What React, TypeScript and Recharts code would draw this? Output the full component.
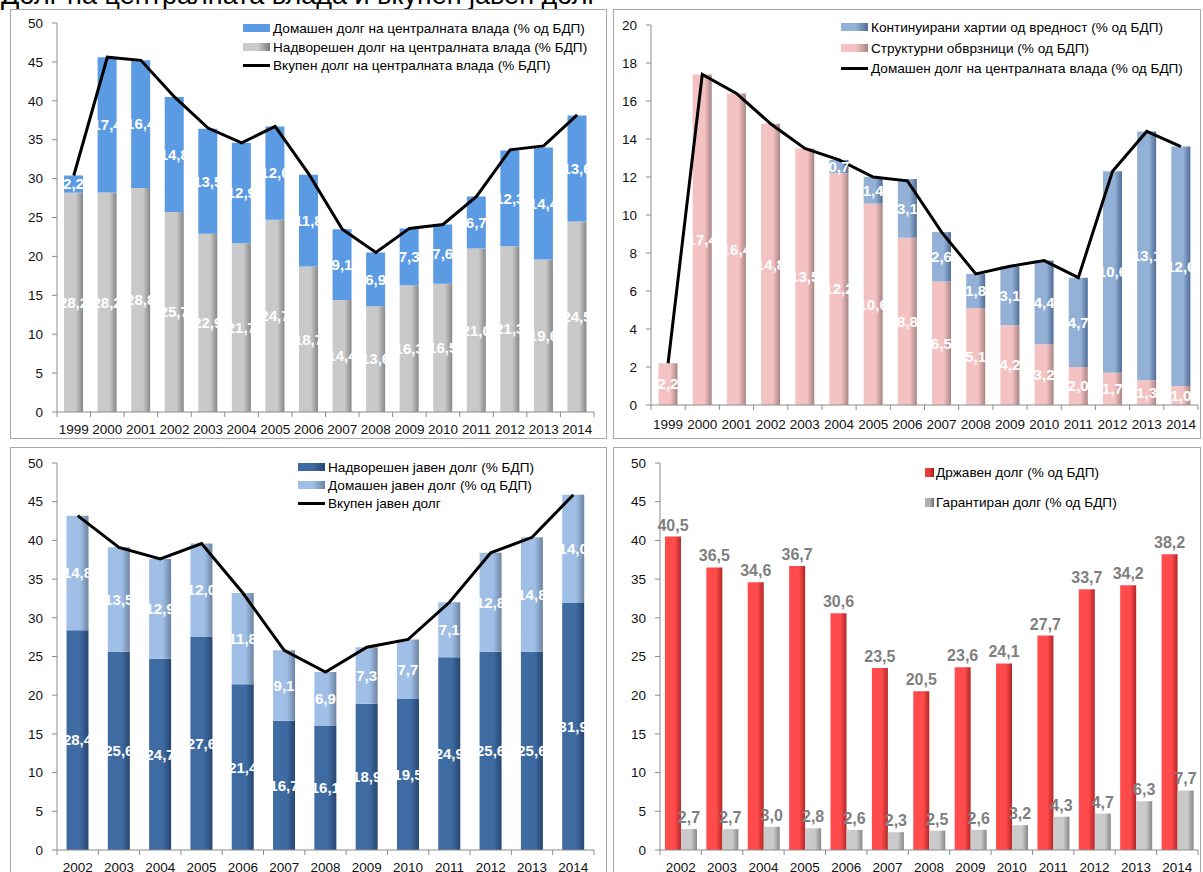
import React from 'react';
import { ComposedChart, BarChart, Bar, Line, XAxis, YAxis, LabelList } from 'recharts';

// categories
const yearsLong = ['1999', '2000', '2001', '2002', '2003', '2004', '2005', '2006', '2007', '2008', '2009', '2010', '2011', '2012', '2013', '2014'];
const yearsShort = ['2002', '2003', '2004', '2005', '2006', '2007', '2008', '2009', '2010', '2011', '2012', '2013', '2014'];

// top-left: central government debt
const centralExternal = [28.2, 28.2, 28.8, 25.7, 22.9, 21.7, 24.7, 18.7, 14.4, 13.6, 16.3, 16.5, 21.0, 21.3, 19.6, 24.5];
const centralDomestic = [2.2, 17.4, 16.4, 14.8, 13.5, 12.9, 12.0, 11.8, 9.1, 6.9, 7.3, 7.6, 6.7, 12.3, 14.4, 13.6];
const centralTotal = [30.4, 45.6, 45.2, 40.5, 36.5, 34.6, 36.7, 30.6, 23.5, 20.5, 23.6, 24.1, 27.7, 33.7, 34.2, 38.2];

// top-right: domestic debt structure
const structuralBonds = [2.2, 17.4, 16.4, 14.8, 13.5, 12.2, 10.6, 8.8, 6.5, 5.1, 4.2, 3.2, 2.0, 1.7, 1.3, 1.0];
const continuousSecurities = [0, 0, 0, 0, 0, 0.7, 1.4, 3.1, 2.6, 1.8, 3.1, 4.4, 4.7, 10.6, 13.1, 12.6];

// bottom-left: public debt
const publicExternal = [28.4, 25.6, 24.7, 27.6, 21.4, 16.7, 16.1, 18.9, 19.5, 24.9, 25.6, 25.6, 31.9];
const publicDomestic = [14.8, 13.5, 12.9, 12.0, 11.8, 9.1, 6.9, 7.3, 7.7, 7.1, 12.8, 14.8, 14.0];
const publicTotal = [43.2, 39.1, 37.6, 39.6, 33.2, 25.8, 23.0, 26.2, 27.2, 32.0, 38.4, 40.4, 45.9];

// bottom-right: state vs guaranteed debt
const stateDebt = [40.5, 36.5, 34.6, 36.7, 30.6, 23.5, 20.5, 23.6, 24.1, 27.7, 33.7, 34.2, 38.2];
const guaranteedDebt = [2.7, 2.7, 3.0, 2.8, 2.6, 2.3, 2.5, 2.6, 3.2, 4.3, 4.7, 6.3, 7.7];

const ticks50 = [0, 5, 10, 15, 20, 25, 30, 35, 40, 45, 50];
const ticks20 = [0, 2, 4, 6, 8, 10, 12, 14, 16, 18, 20];

const data1 = yearsLong.map((y, i) => ({ year: y, ext: centralExternal[i], dom: centralDomestic[i], total: centralTotal[i] }));
const data2 = yearsLong.map((y, i) => ({ year: y, struct: structuralBonds[i], cont: continuousSecurities[i], dom: centralDomestic[i] }));
const data3 = yearsShort.map((y, i) => ({ year: y, ext: publicExternal[i], dom: publicDomestic[i], total: publicTotal[i] }));
const data4 = yearsShort.map((y, i) => ({ year: y, state: stateDebt[i], guar: guaranteedDebt[i] }));

const axisColor = '#8c8c8c';
const font = '"Liberation Sans", Arial, sans-serif';

const fmt = (v: any) => (v == null || Number(v) === 0 ? '' : Number(v).toFixed(1).replace('.', ','));

const makeTick = (bw: number, cats: string[], dy: number) => (props: any) => {
  const { x, y, payload } = props;
  const last = payload.value === cats[cats.length - 1];
  return (
    <g>
      <line x1={x - bw / 2} x2={x - bw / 2} y1={y} y2={y + 5} stroke={axisColor} />
      {last && <line x1={x + bw / 2} x2={x + bw / 2} y1={y} y2={y + 5} stroke={axisColor} />}
      <text x={x} y={y + dy} textAnchor="middle" dominantBaseline="middle" fontSize={13.5} fill="#111">
        {payload.value}
      </text>
    </g>
  );
};

const grad = (id: string, main: string, edge: string) => (
  <linearGradient id={id} x1="0" y1="0" x2="1" y2="0">
    <stop offset="0%" stopColor={main} />
    <stop offset="62%" stopColor={main} />
    <stop offset="100%" stopColor={edge} />
  </linearGradient>
);

const cssGrad = (main: string, edge: string) => `linear-gradient(to right, ${main} 0%, ${main} 55%, ${edge} 100%)`;

type Item = { label: string; kind: 'rect' | 'line' | 'square'; bg?: string };

const LegendBox = ({ left, rows, items }: { left: number; rows: number[]; items: Item[] }) => (
  <>
    {items.map((it, i) => (
      <div key={i} style={{ position: 'absolute', left, top: rows[i] - 9, height: 18, display: 'flex', alignItems: 'center', fontSize: 13.6, color: '#000', whiteSpace: 'nowrap' }}>
        {it.kind === 'rect' && <div style={{ width: 27, height: 8, background: it.bg, marginRight: 3 }} />}
        {it.kind === 'line' && <div style={{ width: 27, height: 3, background: '#000', marginRight: 3 }} />}
        {it.kind === 'square' && <div style={{ width: 9, height: 9, background: it.bg, marginRight: 2 }} />}
        <span>{it.label}</span>
      </div>
    ))}
  </>
);

const frame = (left: number, top: number, width: number, height: number) => (
  <div style={{ position: 'absolute', left, top, width, height, border: '1px solid #a8a8a8', boxSizing: 'border-box' }} />
);

const yAxisProps = {
  axisLine: { stroke: axisColor },
  tickLine: { stroke: axisColor },
  tickSize: 5,
  tickMargin: 9,
  tick: { fontSize: 13.5, fill: '#111' },
  interval: 0 as const,
};

const white = { fill: '#fff', fontSize: 15, fontWeight: 'bold' as const };
const grayLbl = { fill: '#7f7f7f', fontSize: 16, fontWeight: 'bold' as const };

export default function App() {
  return (
    <div style={{ position: 'absolute', left: 0, top: 0, width: 1203, height: 872, overflow: 'hidden', background: '#fff', fontFamily: font }}>
      <svg style={{ position: 'absolute', left: 0, top: 0 }} width={1203} height={10}>
        <text x={1} y={4} fontSize={27} fill="#000" fontFamily={font}>Долг на централната влада и вкупен јавен долг</text>
      </svg>

      {frame(10, 9, 597, 430)}
      {frame(613, 9, 588, 430)}
      {frame(10, 447, 597, 440)}
      {frame(613, 447, 588, 440)}

      {/* top-left */}
      <div style={{ position: 'absolute', left: 10, top: 9 }}>
        <ComposedChart width={597} height={430} data={data1} margin={{ top: 14, right: 13, bottom: 0, left: 0 }} barCategoryGap="21%">
          <defs>{grad('g1ext', '#c9c9c9', '#878787')}</defs>
          <XAxis dataKey="year" axisLine={{ stroke: axisColor }} tickLine={false} tickSize={0} tickMargin={0} height={27} interval={0} tick={makeTick(537 / 16, yearsLong, 18)} />
          <YAxis width={47} domain={[0, 50]} ticks={ticks50} {...yAxisProps} />
          <Bar dataKey="ext" stackId="a" fill="url(#g1ext)" isAnimationActive={false}>
            <LabelList dataKey="ext" position="center" formatter={fmt} style={white} />
          </Bar>
          <Bar dataKey="dom" stackId="a" fill="#5b9be3" isAnimationActive={false}>
            <LabelList dataKey="dom" position="center" formatter={fmt} style={white} />
          </Bar>
          <Line dataKey="total" type="linear" stroke="#000" strokeWidth={3} dot={false} isAnimationActive={false} />
        </ComposedChart>
      </div>
      <LegendBox left={243} rows={[28, 47, 65]} items={[
        { label: 'Домашен долг на централната влада (% од БДП)', kind: 'rect', bg: '#5b9be3' },
        { label: 'Надворешен долг на централната влада (% БДП)', kind: 'rect', bg: cssGrad('#cbcbcb', '#7a7a7a') },
        { label: 'Вкупен долг на централната влада (% БДП)', kind: 'line' },
      ]} />

      {/* top-right */}
      <div style={{ position: 'absolute', left: 613, top: 9 }}>
        <ComposedChart width={588} height={430} data={data2} margin={{ top: 16, right: 3, bottom: 0, left: 0 }} barCategoryGap="22%">
          <defs>
            {grad('g2str', '#f4c2c2', '#a88484')}
            {grad('g2con', '#93b0d6', '#4f6d96')}
          </defs>
          <XAxis dataKey="year" axisLine={{ stroke: axisColor }} tickLine={false} tickSize={0} tickMargin={0} height={34} interval={0} tick={makeTick(547 / 16, yearsLong, 20)} />
          <YAxis width={38} domain={[0, 20]} ticks={ticks20} {...yAxisProps} />
          <Bar dataKey="struct" stackId="a" fill="url(#g2str)" isAnimationActive={false}>
            <LabelList dataKey="struct" position="center" formatter={fmt} style={white} />
          </Bar>
          <Bar dataKey="cont" stackId="a" fill="url(#g2con)" isAnimationActive={false}>
            <LabelList dataKey="cont" position="center" formatter={fmt} style={white} />
          </Bar>
          <Line dataKey="dom" type="linear" stroke="#000" strokeWidth={3} dot={false} isAnimationActive={false} />
        </ComposedChart>
      </div>
      <LegendBox left={841} rows={[27, 48, 68]} items={[
        { label: 'Континуирани хартии од вредност (% од БДП)', kind: 'rect', bg: cssGrad('#93b0d6', '#4f6d96') },
        { label: 'Структурни обврзници (% од БДП)', kind: 'rect', bg: cssGrad('#f4c2c2', '#a88484') },
        { label: 'Домашен долг на централната влада (% од БДП)', kind: 'line' },
      ]} />

      {/* bottom-left */}
      <div style={{ position: 'absolute', left: 10, top: 447 }}>
        <ComposedChart width={597} height={440} data={data3} margin={{ top: 16, right: 13, bottom: 0, left: 0 }} barCategoryGap="23%">
          <defs>
            {grad('g3ext', '#3f6ba3', '#26466f')}
            {grad('g3dom', '#a0bfe6', '#6d84a3')}
          </defs>
          <XAxis dataKey="year" axisLine={{ stroke: axisColor }} tickLine={false} tickSize={0} tickMargin={0} height={37} interval={0} tick={makeTick(537 / 13, yearsShort, 18)} />
          <YAxis width={47} domain={[0, 50]} ticks={ticks50} {...yAxisProps} />
          <Bar dataKey="ext" stackId="a" fill="url(#g3ext)" isAnimationActive={false}>
            <LabelList dataKey="ext" position="center" formatter={fmt} style={white} />
          </Bar>
          <Bar dataKey="dom" stackId="a" fill="url(#g3dom)" isAnimationActive={false}>
            <LabelList dataKey="dom" position="center" formatter={fmt} style={white} />
          </Bar>
          <Line dataKey="total" type="linear" stroke="#000" strokeWidth={3} dot={false} isAnimationActive={false} />
        </ComposedChart>
      </div>
      <LegendBox left={298} rows={[467, 485, 503]} items={[
        { label: 'Надворешен јавен долг (% БДП)', kind: 'rect', bg: cssGrad('#3f6ba3', '#26466f') },
        { label: 'Домашен јавен долг (% од БДП)', kind: 'rect', bg: cssGrad('#a0bfe6', '#6d84a3') },
        { label: 'Вкупен јавен долг', kind: 'line' },
      ]} />

      {/* bottom-right */}
      <div style={{ position: 'absolute', left: 613, top: 447 }}>
        <BarChart width={588} height={440} data={data4} margin={{ top: 16, right: 3, bottom: 0, left: 0 }} barCategoryGap="12%" barGap={0}>
          <defs>
            {grad('g4st', '#ff4b4b', '#b32626')}
            {grad('g4gu', '#cacaca', '#878787')}
          </defs>
          <XAxis dataKey="year" axisLine={{ stroke: axisColor }} tickLine={false} tickSize={0} tickMargin={0} height={37} interval={0} tick={makeTick(538 / 13, yearsShort, 18)} />
          <YAxis width={47} domain={[0, 50]} ticks={ticks50} {...yAxisProps} />
          <Bar dataKey="state" fill="url(#g4st)" isAnimationActive={false}>
            <LabelList dataKey="state" position="top" offset={6} formatter={fmt} style={grayLbl} />
          </Bar>
          <Bar dataKey="guar" fill="url(#g4gu)" isAnimationActive={false}>
            <LabelList dataKey="guar" position="top" offset={6} formatter={fmt} style={grayLbl} />
          </Bar>
        </BarChart>
      </div>
      <LegendBox left={925} rows={[472, 502]} items={[
        { label: 'Државен долг (% од БДП)', kind: 'square', bg: cssGrad('#e83a3a', '#8e1c1c') },
        { label: 'Гарантиран долг (% од БДП)', kind: 'square', bg: cssGrad('#b0b0b0', '#6a6a6a') },
      ]} />
    </div>
  );
}
